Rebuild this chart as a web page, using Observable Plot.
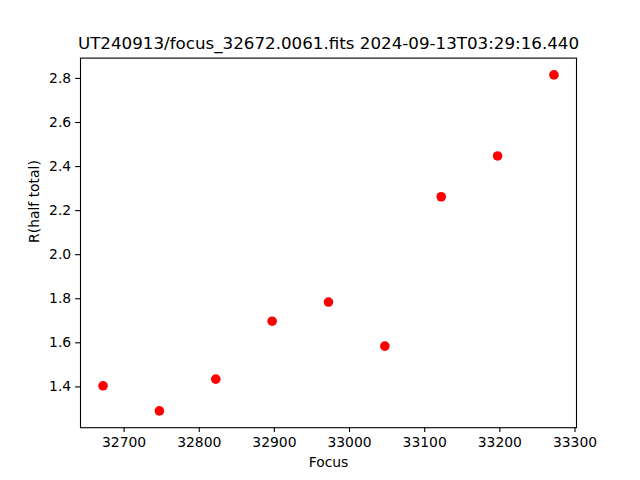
<!DOCTYPE html>
<html>
<head>
<meta charset="utf-8">
<script src="https://cdn.jsdelivr.net/npm/d3@7"></script>
<script src="https://cdn.jsdelivr.net/npm/@observablehq/plot@0.6"></script>
<style>
  html, body { margin: 0; padding: 0; background: #fff; }
</style>
</head>
<body>
<div id="chart"></div>
<script>
const title = "UT240913/focus_32672.0061.fits 2024-09-13T03:29:16.440";
const xLabel = "Focus";
const yLabel = "R(half total)";
const focus = [32672, 32747, 32822, 32897, 32972, 33047, 33122, 33197, 33272];
const rHalf = [1.405, 1.291, 1.435, 1.698, 1.785, 1.585, 2.263, 2.448, 2.816];
const xTicks = [32700, 32800, 32900, 33000, 33100, 33200, 33300];
const yTicks = [1.4, 1.6, 1.8, 2.0, 2.2, 2.4, 2.6, 2.8];

const data = focus.map((f, i) => ({focus: f, r: rHalf[i]}));

function padded(vals) {
  const lo = d3.min(vals), hi = d3.max(vals), m = (hi - lo) * 0.05;
  return [lo - m, hi + m];
}

const font = "DejaVu Sans, sans-serif";
const plot = Plot.plot({
  width: 640,
  height: 480,
  marginLeft: 80,
  marginRight: 64,
  marginTop: 57.6,
  marginBottom: 52.8,
  style: {fontFamily: font, background: "#fff", color: "#000"},
  x: {domain: padded(focus)},
  y: {domain: padded(rHalf)},
  marks: [
    Plot.axisX({ticks: xTicks, tickSize: 4.86, tickPadding: 4.5, tickFormat: d => String(d), label: null, fontSize: 13.9, strokeWidth: 1.1}),
    Plot.axisY({ticks: yTicks, tickSize: 4.86, tickPadding: 4.5, tickFormat: d => d.toFixed(1), label: null, fontSize: 13.9, strokeWidth: 1.1}),
    Plot.frame({stroke: "#000", strokeWidth: 1.1}),
    Plot.dot(data, {x: "focus", y: "r", r: 4.8, fill: "#ff0000", stroke: "none"}),
    Plot.text([title], {frameAnchor: "top", dy: -14.5, lineAnchor: "middle", fontSize: 16.7, fill: "#000", text: d => d}),
    Plot.text([xLabel], {frameAnchor: "bottom", dy: 34.5, lineAnchor: "middle", fontSize: 13.9, fill: "#000", text: d => d}),
    Plot.text([yLabel], {frameAnchor: "left", dx: -46, rotate: -90, lineAnchor: "middle", fontSize: 13.9, fill: "#000", text: d => d})
  ]
});
document.getElementById("chart").appendChild(plot);
</script>
</body>
</html>
